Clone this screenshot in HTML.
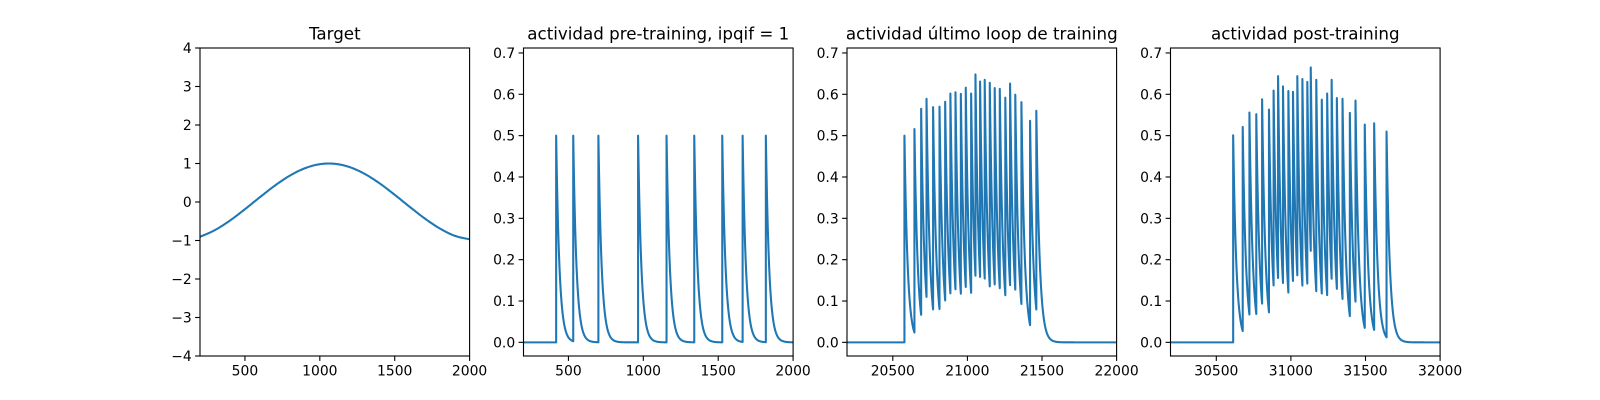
<!DOCTYPE html>
<html><head><meta charset="utf-8"><style>
html,body{margin:0;padding:0;background:#fff;}
svg{display:block;font-family:"DejaVu Sans","Liberation Sans",sans-serif;}
</style></head><body>
<svg id="fig" width="1600" height="400" viewBox="0 0 1600 400"></svg>
<script>
const targetX=[200,300,400,500,600,700,800,900,1000,1100,1200,1300,1400,1500,1600,1700,1800,1900,2000];
const targetY=[-0.905,-0.729,-0.482,-0.187,0.125,0.426,0.685,0.876,0.982,0.992,0.905,0.729,0.482,0.187,-0.125,-0.426,-0.685,-0.876,-0.97];
const preTimes=[418,532,700,965,1155,1340,1527,1663,1818];
const prePeaks=[0.5,0.5,0.5,0.5,0.5,0.5,0.5,0.5,0.5];
const lastTimes=[20578,20645,20690,20726,20770,20813,20851,20886,20920,20956,20989,21025,21054,21085,21116,21150,21183,21217,21254,21286,21321,21362,21420,21462];
const lastPeaks=[0.5,0.516,0.565,0.589,0.569,0.570,0.582,0.602,0.605,0.601,0.616,0.602,0.648,0.631,0.635,0.628,0.615,0.613,0.592,0.626,0.599,0.581,0.536,0.560];
const postTimes=[30613,30677,30722,30768,30807,30853,30884,30914,30947,30983,31014,31043,31077,31110,31133,31170,31207,31243,31273,31308,31346,31395,31433,31495,31558,31641];
const postPeaks=[0.501,0.521,0.556,0.552,0.588,0.563,0.609,0.644,0.619,0.608,0.606,0.644,0.637,0.630,0.665,0.635,0.587,0.602,0.635,0.591,0.589,0.555,0.585,0.527,0.530,0.510];
const titles=["Target","actividad pre-training, ipqif = 1","actividad último loop de training","actividad post-training"];
const xTicks1=[500,1000,1500,2000];
const yTicks1=[-4,-3,-2,-1,0,1,2,3,4];
const xTicks3=[20500,21000,21500,22000];
const xTicks4=[30500,31000,31500,32000];
const yTicksAct=[0.0,0.1,0.2,0.3,0.4,0.5,0.6,0.7];
const tau=22;

const NS="http://www.w3.org/2000/svg";
const svg=document.getElementById('fig');
function mk(tag,attrs,parent){const e=document.createElementNS(NS,tag);for(const k in attrs)e.setAttribute(k,attrs[k]);(parent||svg).appendChild(e);return e;}
const axTop=48,bot=356,W=269.6;
const lefts=[200,523.5,847,1170.5];
const ranges=[
 {x:[200,2000],y:[-4,4],xt:xTicks1,yt:yTicks1,yf:v=>String(v).replace('-','\u2212')},
 {x:[200,2000],y:[-0.033,0.712],xt:xTicks1,yt:yTicksAct,yf:v=>v.toFixed(1)},
 {x:[20193,22000],y:[-0.033,0.712],xt:xTicks3,yt:yTicksAct,yf:v=>v.toFixed(1)},
 {x:[30193,32000],y:[-0.033,0.712],xt:xTicks4,yt:yTicksAct,yf:v=>v.toFixed(1)}
];
const names=['target','pre-training','last-loop','post-training'];
function spikeTrace(times,peaks,x0,x1){
  const pts=[];let idx=-1;
  for(let t=x0;t<=x1;t+=1){
    while(idx+1<times.length&&times[idx+1]<=t){
      const prev=idx>=0?peaks[idx]*Math.exp(-(times[idx+1]-times[idx])/tau):0;
      idx++;pts.push([times[idx],prev]);pts.push([times[idx],peaks[idx]]);
    }
    const v=idx>=0?peaks[idx]*Math.exp(-(t-times[idx])/tau):0;
    pts.push([t,v]);
  }
  return pts;
}
ranges.forEach((r,i)=>{
  const L=lefts[i];
  const g=mk('g',{});
  
  
  const sx=v=>L+(v-r.x[0])/(r.x[1]-r.x[0])*W;
  const sy=v=>bot-(v-r.y[0])/(r.y[1]-r.y[0])*(bot-axTop);
  const cp=mk('clipPath',{id:'c'+i},g);mk('rect',{x:L,y:axTop,width:W,height:bot-axTop},cp);
  let pts;
  if(i===0){
    pts=[];
    for(let k=0;k<targetX.length-1;k++){
      const p0=k>0?k-1:k,p3=k+2<targetX.length?k+2:k+1;
      for(let s=0;s<10;s++){const u=s/10;
        const cr=(a,b,c,d)=>0.5*((2*b)+(-a+c)*u+(2*a-5*b+4*c-d)*u*u+(-a+3*b-3*c+d)*u*u*u);
        pts.push([cr(targetX[p0],targetX[k],targetX[k+1],targetX[p3]),cr(targetY[p0],targetY[k],targetY[k+1],targetY[p3])]);}
    }
    pts.push([targetX[targetX.length-1],targetY[targetY.length-1]]);
  } else {
    const T=[null,preTimes,lastTimes,postTimes][i],P=[null,prePeaks,lastPeaks,postPeaks][i];
    pts=spikeTrace(T,P,r.x[0],r.x[1]);
  }
  const line=mk('path',{d:'M'+pts.map(p=>sx(p[0]).toFixed(2)+','+sy(p[1]).toFixed(2)).join('L'),fill:'none',stroke:'#1f77b4','stroke-width':2.08,'stroke-linejoin':'round','clip-path':'url(#c'+i+')'},g);
  
  
  const frame=mk('rect',{x:L,y:axTop,width:W,height:bot-axTop,fill:'none',stroke:'#000','stroke-width':1.1},g);
  
  
  r.xt.forEach(v=>{const x=sx(v);
    mk('line',{x1:x,x2:x,y1:bot,y2:bot+4.9,stroke:'#000','stroke-width':1.1},g);
    const t=mk('text',{x:x,y:bot+19.5,'font-size':13.9,'text-anchor':'middle',fill:'#000'},g);t.textContent=v;
    
    
  });
  r.yt.forEach(v=>{const y=sy(v);
    mk('line',{x1:L-4.9,x2:L,y1:y,y2:y,stroke:'#000','stroke-width':1.1},g);
    const t=mk('text',{x:L-8.3,y:y+5,'font-size':13.9,'text-anchor':'end',fill:'#000'},g);t.textContent=r.yf(v);
    
    
  });
  const tt=mk('text',{x:L+W/2,y:axTop-8.5,'font-size':16.7,'text-anchor':'middle',fill:'#000'},g);tt.textContent=titles[i];
  
  
});
</script>
</body></html>
